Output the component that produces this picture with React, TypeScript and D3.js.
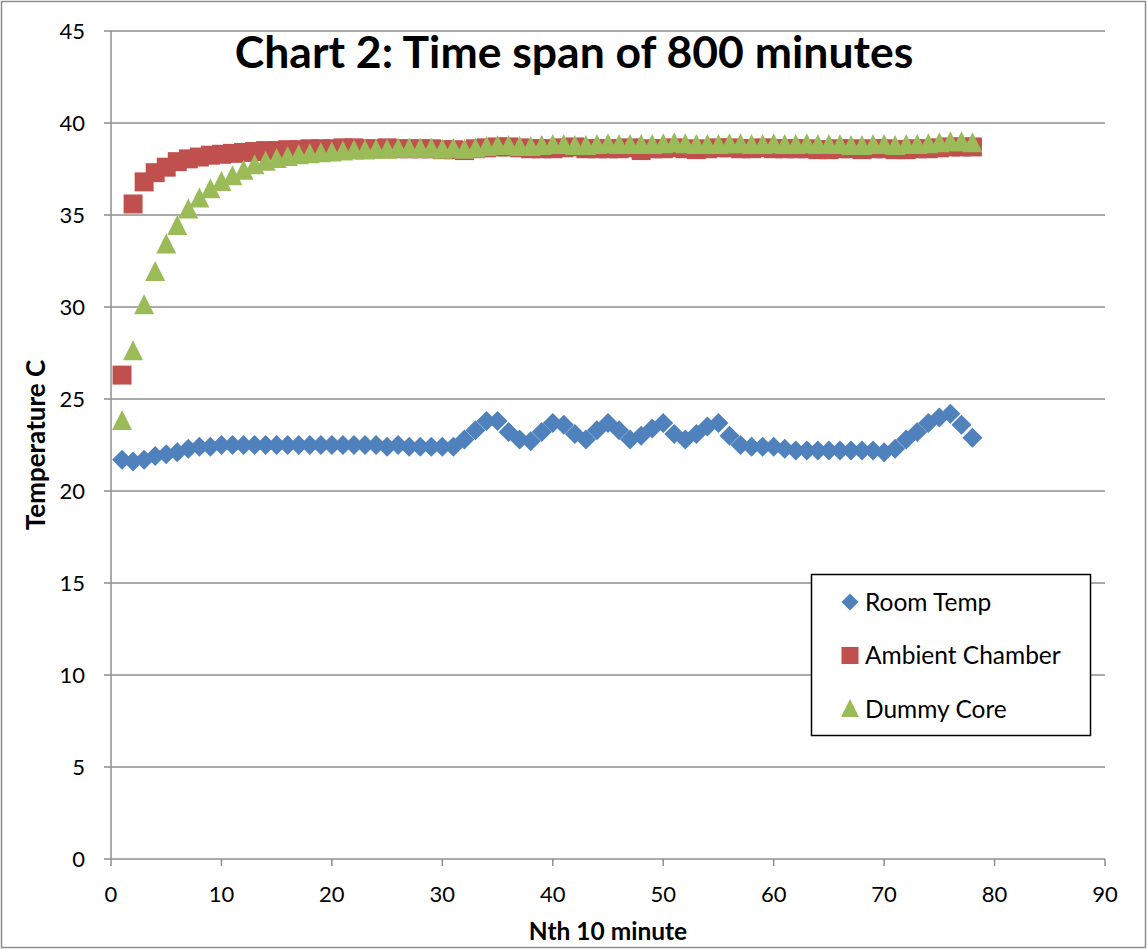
import React from 'react';
import * as d3 from 'd3';

// Nth 10 minute readings, 1..78
const roomTemp = [21.7, 21.6, 21.7, 21.9, 22.0, 22.1, 22.3, 22.4, 22.4, 22.5, 22.5, 22.5, 22.5, 22.5, 22.5, 22.5, 22.5, 22.5, 22.5, 22.5, 22.5, 22.5, 22.5, 22.5, 22.4, 22.5, 22.4, 22.4, 22.4, 22.4, 22.4, 22.8, 23.3, 23.8, 23.8, 23.2, 22.8, 22.7, 23.2, 23.7, 23.6, 23.1, 22.8, 23.3, 23.7, 23.3, 22.8, 23.0, 23.4, 23.7, 23.1, 22.8, 23.1, 23.5, 23.7, 23.0, 22.5, 22.4, 22.4, 22.4, 22.3, 22.2, 22.2, 22.2, 22.2, 22.2, 22.2, 22.2, 22.2, 22.1, 22.3, 22.8, 23.2, 23.7, 24.0, 24.2, 23.6, 22.9];
const ambientChamber = [26.3, 35.6, 36.8, 37.3, 37.6, 37.9, 38.05, 38.15, 38.25, 38.3, 38.35, 38.4, 38.45, 38.5, 38.5, 38.55, 38.55, 38.6, 38.6, 38.6, 38.65, 38.65, 38.6, 38.6, 38.65, 38.6, 38.6, 38.6, 38.6, 38.55, 38.55, 38.5, 38.6, 38.65, 38.7, 38.7, 38.65, 38.6, 38.6, 38.6, 38.65, 38.7, 38.6, 38.6, 38.6, 38.6, 38.65, 38.5, 38.6, 38.6, 38.65, 38.6, 38.55, 38.6, 38.65, 38.65, 38.6, 38.6, 38.65, 38.6, 38.6, 38.6, 38.6, 38.55, 38.55, 38.6, 38.6, 38.55, 38.6, 38.6, 38.55, 38.55, 38.6, 38.6, 38.65, 38.7, 38.7, 38.7];
const dummyCore = [23.8, 27.6, 30.1, 31.9, 33.4, 34.4, 35.3, 35.9, 36.4, 36.8, 37.1, 37.4, 37.7, 37.9, 38.05, 38.15, 38.25, 38.3, 38.35, 38.4, 38.45, 38.5, 38.5, 38.55, 38.55, 38.6, 38.6, 38.6, 38.6, 38.55, 38.6, 38.55, 38.6, 38.7, 38.75, 38.75, 38.7, 38.7, 38.75, 38.8, 38.8, 38.75, 38.75, 38.8, 38.85, 38.8, 38.8, 38.8, 38.8, 38.85, 38.9, 38.85, 38.8, 38.8, 38.8, 38.85, 38.85, 38.8, 38.8, 38.85, 38.8, 38.8, 38.85, 38.8, 38.8, 38.8, 38.75, 38.75, 38.8, 38.8, 38.75, 38.8, 38.8, 38.85, 38.9, 38.95, 38.95, 38.9];

const xTicks = [0, 10, 20, 30, 40, 50, 60, 70, 80, 90];
const yTicks = [0, 5, 10, 15, 20, 25, 30, 35, 40, 45];

const seriesNames = ['Room Temp', 'Ambient Chamber', 'Dummy Core'];
const seriesColors = ['#4F81BD', '#C0504D', '#9BBB59'];

const W = 1147;
const H = 949;
const margin = { left: 111, top: 31, right: 42, bottom: 90 };
const font = 'Lato, "Open Sans", sans-serif';

const x = d3.scaleLinear().domain([0, 90]).range([margin.left, W - margin.right]);
const y = d3.scaleLinear().domain([0, 45]).range([H - margin.bottom, margin.top]);

const diamond = d3.symbol(d3.symbolSquare, 200)();
const square = d3.symbol(d3.symbolSquare, 360)();
const triangle = (s: number) => `M0,${-s * 0.55}L${s / 2},${s * 0.45}L${-s / 2},${s * 0.45}Z`;

const Marker = ({ kind, color }: { kind: number; color: string }) => {
  if (kind === 0) return <path d={diamond} transform="rotate(45)" fill={color} />;
  if (kind === 1) return <path d={square} fill={color} />;
  return <path d={triangle(20)} fill={color} />;
};

const App = () => {
  const all = [roomTemp, ambientChamber, dummyCore];
  const x0 = x(0);
  const y0 = y(0);
  return (
    <svg width={W} height={H} style={{ position: 'absolute', left: 0, top: 0 }} fontFamily={font}>
      <rect x={0} y={0} width={W} height={H} fill="#fff" />
      <rect x={1.5} y={1.5} width={W - 3} height={H - 3} fill="none" stroke="#8c8c8c" strokeWidth={1.5} />

      {/* gridlines + y axis */}
      {yTicks.map(t => (
        <g key={t}>
          <line x1={x0 - 7} x2={x(90)} y1={y(t)} y2={y(t)} stroke="#8e8e8e" strokeWidth={1.5} />
          <text x={x0 - 26} y={y(t)} dy="0.36em" textAnchor="end" fontSize={22}>{t}</text>
        </g>
      ))}
      <line x1={x0} x2={x0} y1={y(45)} y2={y0} stroke="#8e8e8e" strokeWidth={1.5} />
      {xTicks.map(t => (
        <g key={t}>
          <line x1={x(t)} x2={x(t)} y1={y0} y2={y0 + 7} stroke="#8e8e8e" strokeWidth={1.5} />
          <text x={x(t)} y={y0 + 43} textAnchor="middle" fontSize={22}>{t}</text>
        </g>
      ))}

      {/* markers */}
      {all.map((vals, si) => (
        <g key={si}>
          {vals.map((v, i) => (
            <g key={i} transform={`translate(${x(i + 1)},${y(v)})`}>
              <Marker kind={si} color={seriesColors[si]} />
            </g>
          ))}
        </g>
      ))}

      <text x={574} y={68} textAnchor="middle" fontSize={44.5} fontWeight="bold">Chart 2: Time span of 800 minutes</text>
      <text transform={`translate(45,${(y(45) + y0) / 2}) rotate(-90)`} textAnchor="middle" fontSize={26} fontWeight="bold">Temperature C</text>
      <text x={608} y={940} textAnchor="middle" fontSize={24.5} fontWeight="bold">Nth 10 minute</text>

      {/* legend */}
      <rect x={811.5} y={574.5} width={279} height={161} fill="#fff" stroke="#000" strokeWidth={1.5} />
      {seriesNames.map((n, i) => (
        <g key={n} transform={`translate(850,${602 + i * 53.5})`}>
          <g transform={i === 0 ? 'scale(0.85)' : 'scale(0.9)'}>
            <Marker kind={i} color={seriesColors[i]} />
          </g>
          <text x={15} dy="0.36em" fontSize={24.5}>{n}</text>
        </g>
      ))}
    </svg>
  );
};

export default App;
